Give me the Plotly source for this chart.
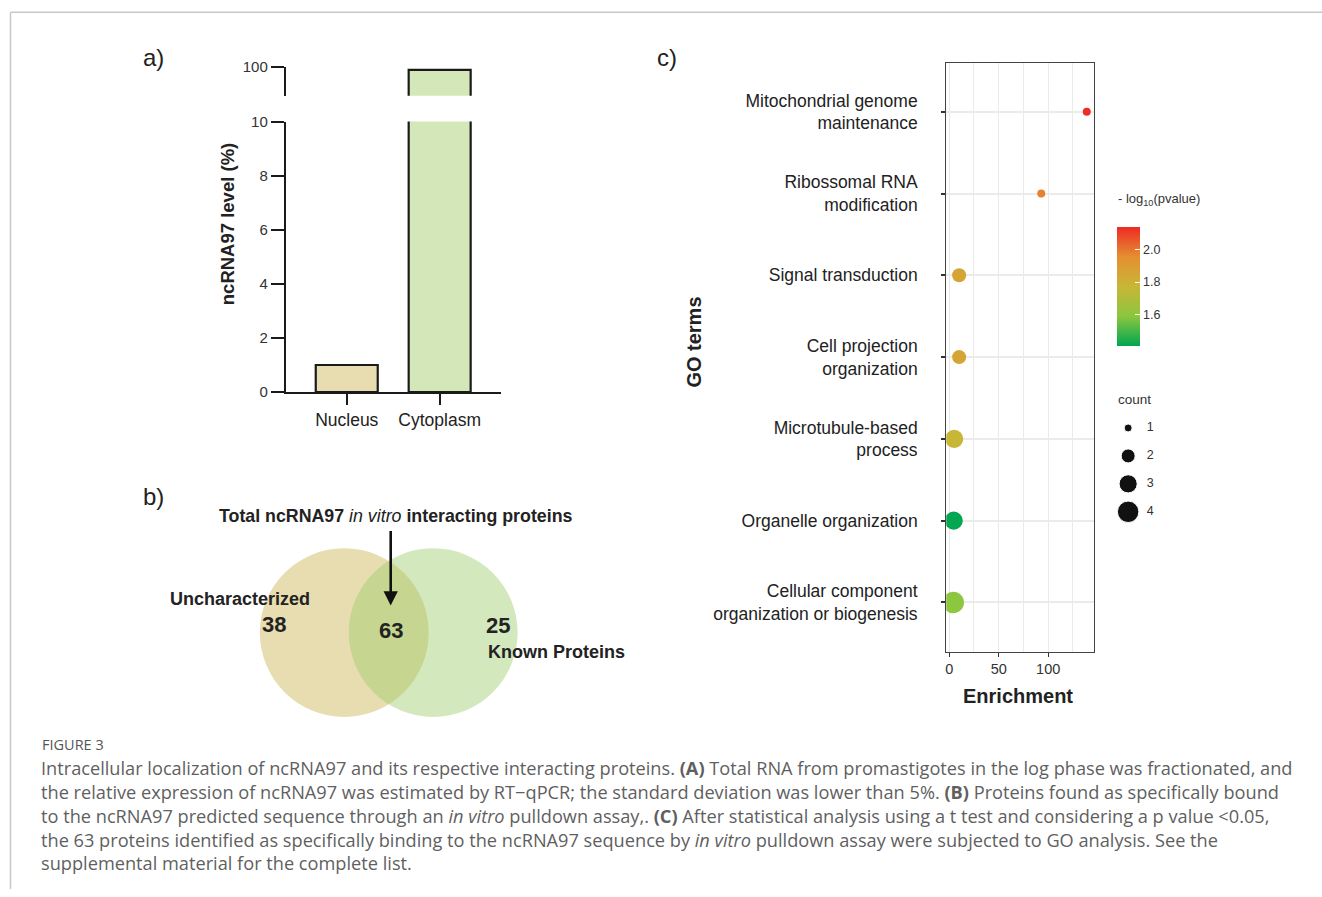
import plotly.graph_objects as go

W, H = 1322, 897

# ---------------- data ----------------
bar_categories = ["Nucleus", "Cytoplasm"]
bar_values = [1.0, 99.0]
bar_colors = ["#e8ddb0", "#d3e7b9"]
lower_ticks = [0, 2, 4, 6, 8, 10]
upper_ticks = [100]

venn_sets = ["Uncharacterized", "Known Proteins"]
venn_counts = [38, 63, 25]   # left only, intersection, right only

go_terms = [
    "Mitochondrial genome<br>maintenance",
    "Ribossomal RNA<br>modification",
    "Signal transduction",
    "Cell projection<br>organization",
    "Microtubule-based<br>process",
    "Organelle organization",
    "Cellular component<br>organization or biogenesis",
]
enrichment = [139, 93, 10, 10, 5, 4.5, 4]
neg_log10_p = [2.13, 1.98, 1.85, 1.85, 1.77, 1.41, 1.59]
go_counts = [1, 1, 2, 2, 3, 3, 4]
legend_counts = [1, 2, 3, 4]
enrich_ticks = [0, 50, 100]
cbar_ticks = [1.6, 1.8, 2.0]

# ---------------- helpers ----------------
# the rendered page maps paper height onto ~881 px starting 8 px down;
# these helpers convert target screen pixels to paper fractions.
Y_OFF, Y_SCALE = 8.2, 0.983


def px(x):
    return x / W


def py(y):
    return 1 - ((y - Y_OFF) / Y_SCALE) / H


def size_of(c, cmin=1, cmax=4, dmin=8, dmax=21.5):
    t = (c - cmin) / (cmax - cmin)
    return (dmin ** 2 + t * (dmax ** 2 - dmin ** 2)) ** 0.5


FONT = "Liberation Sans, Arial, sans-serif"
colorscale = [
    [0.0, "#00a651"],
    [0.25, "#8cc63f"],
    [0.5, "#c8b636"],
    [0.75, "#e48f31"],
    [1.0, "#ee2a24"],
]
CMIN, CMAX = 1.405, 2.137

fig = go.Figure()

# ---------------- panel a : broken-axis bar chart ----------------
for yax in ["y", "y2"]:
    fig.add_trace(go.Bar(
        x=bar_categories, y=bar_values, xaxis="x", yaxis=yax,
        width=0.667,
        marker=dict(color=bar_colors, line=dict(color="#1a1a1a", width=2.2)),
        showlegend=False, hoverinfo="x+y",
    ))

# ---------------- panel c : GO dot plot ----------------
fig.add_trace(go.Scatter(
    x=enrichment, y=go_terms, xaxis="x3", yaxis="y3", mode="markers",
    marker=dict(
        size=[size_of(c) for c in go_counts], opacity=1,
        color=neg_log10_p, colorscale=colorscale, cmin=CMIN, cmax=CMAX,
        line=dict(width=0),
        colorbar=dict(
            x=px(1117), xanchor="left", xpad=0,
            y=py(286.5), yanchor="middle",
            lenmode="pixels", len=139, thicknessmode="pixels", thickness=23,
            outlinewidth=0,
            tickvals=cbar_ticks, ticktext=[f"{v:.1f}" for v in cbar_ticks],
            ticks="inside", tickcolor="white", ticklen=5, tickwidth=1,
            tickfont=dict(size=12.5, color="#333", family=FONT),
        ),
    ),
    showlegend=False,
))

# size legend ("count")
fig.add_trace(go.Scatter(
    x=[0.36] * len(legend_counts), y=legend_counts, xaxis="x4", yaxis="y4",
    mode="markers",
    marker=dict(size=[size_of(c) for c in legend_counts], color="#111", opacity=1),
    showlegend=False, hoverinfo="skip",
))
fig.add_trace(go.Scatter(
    x=[0.8] * len(legend_counts), y=legend_counts, xaxis="x4", yaxis="y4",
    mode="text", text=[str(c) for c in legend_counts], textposition="middle center",
    textfont=dict(size=12.5, color="#333", family=FONT),
    showlegend=False, hoverinfo="skip",
))

axis_col = "#1a1a1a"
fig.update_layout(
    width=W, height=H, margin=dict(l=0, r=0, t=0, b=0),
    paper_bgcolor="white", plot_bgcolor="rgba(0,0,0,0)",
    barmode="overlay", font=dict(family=FONT, color="#222"),
    # panel a
    xaxis=dict(domain=[px(285), px(500)], range=[-0.656, 1.656], anchor="y",
               showline=True, linecolor=axis_col, linewidth=2,
               ticks="outside", ticklen=11, tickwidth=2, tickcolor=axis_col,
               tickfont=dict(size=17.5, color="#222"), showgrid=False, zeroline=False,
               fixedrange=True),
    yaxis=dict(domain=[py(392), py(121)], range=[0, 10], anchor="x",
               tickvals=lower_ticks, showline=True, linecolor=axis_col, linewidth=2,
               ticks="outside", ticklen=13, tickwidth=2, tickcolor=axis_col,
               tickfont=dict(size=15, color="#333"), showgrid=False, zeroline=False),
    yaxis2=dict(domain=[py(95), py(66)], range=[91, 100], anchor="x",
                tickvals=upper_ticks, showline=True, linecolor=axis_col, linewidth=2,
                ticks="outside", ticklen=13, tickwidth=2, tickcolor=axis_col,
                tickfont=dict(size=15, color="#333"), showgrid=False, zeroline=False),
    # panel c
    xaxis3=dict(domain=[px(946), px(1094)], range=[-3, 146.5], anchor="y3",
                tickvals=enrich_ticks, ticks="outside", ticklen=4, tickcolor="#333",
                tickfont=dict(size=14.5, color="#333"),
                showgrid=True, gridcolor="#ebebeb", gridwidth=1.2,
                minor=dict(dtick=25, tick0=0, showgrid=True, gridcolor="#ebebeb",
                           gridwidth=1.2, ticks=""),
                showline=True, mirror=True, linecolor="#444", linewidth=1.3,
                zeroline=False),
    yaxis3=dict(domain=[py(652), py(62)], anchor="x3", type="category",
                categoryorder="array", categoryarray=go_terms,
                range=[len(go_terms) - 0.4, -0.6],
                ticks="outside", ticklen=4, tickwidth=2, tickcolor="#333",
                ticklabelstandoff=20,
                tickfont=dict(size=17.5, color="#222"),
                showgrid=True, gridcolor="#ebebeb", gridwidth=2,
                showline=True, mirror=True, linecolor="#444", linewidth=1.3,
                zeroline=False),
    # count legend
    xaxis4=dict(domain=[px(1110), px(1160)], range=[0, 1], anchor="y4", visible=False),
    yaxis4=dict(domain=[py(526), py(414)], range=[4.5, 0.5], anchor="x4", visible=False),
)

# ---------------- shapes ----------------
shapes = []
# page frame
shapes.append(dict(type="line", xref="paper", yref="paper", x0=px(9.5), x1=px(1322),
                   y0=py(11.5), y1=py(11.5), line=dict(color="#c8c8c8", width=1.5)))
shapes.append(dict(type="line", xref="paper", yref="paper", x0=px(9.5), x1=px(9.5),
                   y0=py(11.5), y1=0, line=dict(color="#c8c8c8", width=1.5)))
# venn circles
R = 84.5
CY = 633
for cx, col in [(343.5, "#e8ddb0"), (432.5, "rgba(157,204,106,0.45)")]:
    shapes.append(dict(type="circle", xref="paper", yref="paper",
                       x0=px(cx - R), x1=px(cx + R), y0=py(CY + R), y1=py(CY - R),
                       fillcolor=col, line=dict(width=0), layer="below"))
fig.update_layout(shapes=shapes)

# ---------------- annotations ----------------
ann = []


def text(x, y, s, size, bold=False, xanchor="center", color="#222", angle=0,
         family=FONT, yanchor="middle"):
    ann.append(dict(xref="paper", yref="paper", x=px(x), y=py(y),
                    text=f"<b>{s}</b>" if bold else s, showarrow=False,
                    xanchor=xanchor, yanchor=yanchor, textangle=angle,
                    font=dict(size=size, color=color, family=family)))


# panel labels
text(153, 57, "a)", 24)
text(153, 497, "b)", 24)
text(667, 57, "c)", 24)

# panel a y title
text(227, 224, "ncRNA97 level (%)", 18.5, bold=True, angle=-90)

# panel b texts
text(395, 516, "<b>Total ncRNA97 </b><i>in vitro</i><b> interacting proteins</b>", 17.8)
ann.append(dict(xref="paper", yref="paper", x=px(390), y=py(606),
                ax=0, ay=-76, axref="pixel", ayref="pixel",
                text="", showarrow=True, arrowhead=2, arrowsize=1.1,
                arrowwidth=2.6, arrowcolor="#111", standoff=0))
text(167, 599, venn_sets[0], 18, bold=True, xanchor="left")
text(273, 625, str(venn_counts[0]), 22, bold=True)
text(390, 631, str(venn_counts[1]), 22, bold=True)
text(497, 626, str(venn_counts[2]), 22, bold=True)
text(485, 652, venn_sets[1], 18, bold=True, xanchor="left")

# panel c titles
text(694, 342, "GO terms", 20, bold=True, angle=-90)
text(1018, 697, "Enrichment", 20, bold=True)
text(1116, 199, "- log<sub>10</sub>(pvalue)", 13, xanchor="left", color="#333")
text(1116, 399, "count", 13.5, xanchor="left", color="#333")

# caption
CAP = "Open Sans, Lato, sans-serif"
text(39, 745, "FIGURE 3", 14.5, xanchor="left", color="#555", family=CAP)
caption_lines = [
    "Intracellular localization of ncRNA97 and its respective interacting proteins. <b>(A)</b> Total RNA from promastigotes in the log phase was fractionated, and",
    "the relative expression of ncRNA97 was estimated by RT\u2212qPCR; the standard deviation was lower than 5%. <b>(B)</b> Proteins found as specifically bound",
    "to the ncRNA97 predicted sequence through an <i>in vitro</i> pulldown assay,. <b>(C)</b> After statistical analysis using a t test and considering a p value &lt;0.05,",
    "the 63 proteins identified as specifically binding to the ncRNA97 sequence by <i>in vitro</i> pulldown assay were subjected to GO analysis. See the",
    "supplemental material for the complete list.",
]
for i, line in enumerate(caption_lines):
    text(38, 769 + i * 23.8, line, 18.2, xanchor="left", color="#5f5f5f", family=CAP)

fig.update_layout(annotations=ann)

fig.write_html(
    "out.html", include_plotlyjs=True, config={"displayModeBar": False},
    post_script=("document.body.style.margin='0';document.body.style.overflow='hidden';"
                 "var d=document.getElementById('{plot_id}');"
                 "d.style.position='absolute';d.style.top='0px';d.style.left='0px';"),
)
